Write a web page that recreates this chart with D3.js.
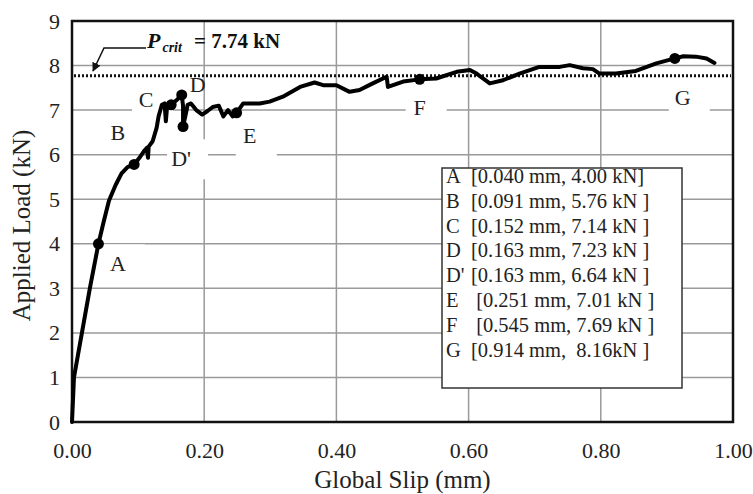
<!DOCTYPE html>
<html>
<head>
<meta charset="utf-8">
<script src="https://cdn.jsdelivr.net/npm/d3@7"></script>
<style>
	body { margin: 0; background: #fff; }
	svg { font-family: "Liberation Serif", "Times New Roman", serif; }
</style>
</head>
<body>
<svg id="chart"></svg>
<script>
// load-slip curve
var slip = [0, 0.003, 0.027, 0.040, 0.048, 0.056, 0.066, 0.075, 0.084, 0.094, 0.103, 0.110, 0.113, 0.115, 0.116, 0.122, 0.128, 0.131,
	0.136, 0.140, 0.142, 0.144, 0.150, 0.158, 0.166, 0.168, 0.168, 0.172, 0.175, 0.180, 0.188, 0.197, 0.205, 0.213, 0.222, 0.229,
	0.236, 0.243, 0.249, 0.259, 0.284, 0.299, 0.319, 0.345, 0.367, 0.380, 0.400, 0.420, 0.435, 0.455, 0.476, 0.478, 0.501, 0.526,
	0.551, 0.582, 0.602, 0.612, 0.632, 0.652, 0.677, 0.707, 0.738, 0.753, 0.773, 0.788, 0.798, 0.823, 0.853, 0.884, 0.912, 0.925,
	0.944, 0.960, 0.972];
var load = [0, 1.0, 3.0, 4.00, 4.5, 4.97, 5.32, 5.58, 5.72, 5.78, 5.95, 6.10, 6.15, 5.93, 6.18, 6.3, 6.6, 6.86,
	7.12, 7.15, 6.75, 7.10, 7.12, 7.22, 7.34, 7.1, 6.63, 6.9, 7.12, 7.15, 7.0, 6.9, 6.98, 7.07, 7.1, 6.86,
	7.0, 6.86, 6.94, 7.15, 7.15, 7.19, 7.3, 7.52, 7.62, 7.56, 7.56, 7.41, 7.45, 7.6, 7.75, 7.52, 7.64, 7.69,
	7.71, 7.86, 7.90, 7.82, 7.60, 7.67, 7.82, 7.97, 7.97, 8.01, 7.94, 7.92, 7.82, 7.82, 7.88, 8.05, 8.16, 8.21,
	8.20, 8.16, 8.06];

// marked points
var pointNames = ["A", "B", "C", "D", "D'", "E", "F", "G"];
var pointSlip  = [0.040, 0.094, 0.150, 0.166, 0.168, 0.249, 0.526, 0.912];
var pointLoad  = [4.00, 5.78, 7.12, 7.34, 6.63, 6.94, 7.69, 8.16];
// where each letter sits (data units)
var labelSlip  = [0.0695, 0.0695, 0.112, 0.190, 0.165, 0.269, 0.526, 0.924];
var labelLoad  = [3.56, 6.51, 7.25, 7.58, 5.92, 6.44, 7.07, 7.29];
var labelBoxed = [true, true, true, false, true, true, true, true];

var legendKeys  = ["A", "B", "C", "D", "D'", "E", "F", "G"];
var legendTexts = ["[0.040 mm, 4.00 kN]", "[0.091 mm, 5.76 kN ]", "[0.152 mm, 7.14 kN ]", "[0.163 mm, 7.23 kN ]",
	"[0.163 mm, 6.64 kN ]", " [0.251 mm, 7.01 kN ]", " [0.545 mm, 7.69 kN ]", "[0.914 mm,  8.16kN ]"];

var pcritText = "7.74";
var pcritLine = 7.77;

var xTicks = [0, 0.2, 0.4, 0.6, 0.8, 1.0];
var yTicks = [0, 1, 2, 3, 4, 5, 6, 7, 8, 9];

var W = 753, H = 494;
var margin = { top: 21, right: 20, bottom: 72, left: 72 };
var width = W - margin.left - margin.right;
var height = H - margin.top - margin.bottom;

var svg = d3.select("#chart").attr("width", W).attr("height", H);

var xScale = d3.scaleLinear().domain([0, 1]).range([margin.left, margin.left + width]);
var yScale = d3.scaleLinear().domain([0, 9]).range([margin.top + height, margin.top]);

// grid
var grid = svg.append("g").attr("class", "grid");
grid.selectAll(".hgrid").data(yTicks.slice(1, -1)).enter().append("line")
	.attr("x1", xScale(0)).attr("x2", xScale(1))
	.attr("y1", function(d) { return yScale(d); }).attr("y2", function(d) { return yScale(d); })
	.attr("stroke", "#9a9a9a").attr("stroke-width", 1.5);
grid.selectAll(".vgrid").data(xTicks.slice(1, -1)).enter().append("line")
	.attr("y1", yScale(0)).attr("y2", yScale(9))
	.attr("x1", function(d) { return xScale(d); }).attr("x2", function(d) { return xScale(d); })
	.attr("stroke", "#9a9a9a").attr("stroke-width", 1.5);

// axes
var xAxis = d3.axisBottom(xScale).tickValues(xTicks).tickSize(0).tickPadding(20).tickFormat(d3.format(".2f"));
var yAxis = d3.axisLeft(yScale).tickValues(yTicks).tickSize(0).tickPadding(12).tickFormat(d3.format("d"));
var gx = svg.append("g").attr("transform", "translate(0," + yScale(0) + ")").call(xAxis);
var gy = svg.append("g").attr("transform", "translate(" + xScale(0) + ",0)").call(yAxis);
[gx, gy].forEach(function(g) {
	g.select(".domain").remove();
	g.selectAll("text").attr("font-family", "Liberation Serif, serif").attr("font-size", 22).attr("fill", "#222");
});

// white text boxes behind the letters
var labels = pointNames.map(function(n, i) { return { name: n, x: labelSlip[i], y: labelLoad[i], boxed: labelBoxed[i] }; });
svg.append("g").selectAll("rect").data(labels.filter(function(d) { return d.boxed; })).enter().append("rect")
	.attr("x", function(d) { return xScale(d.x) - 14; })
	.attr("y", function(d) { return yScale(d.y) - 19; })
	.attr("width", 41).attr("height", 40)
	.attr("fill", "#fff");

// legend box
var lg = svg.append("g");
lg.append("rect").attr("x", 442).attr("y", 168).attr("width", 240).attr("height", 220)
	.attr("fill", "#fff").attr("stroke", "#333").attr("stroke-width", 1.5);
legendKeys.forEach(function(k, i) {
	var yy = 183 + i * 24.8;
	lg.append("text").attr("x", 446).attr("y", yy).attr("font-size", 20.5).attr("fill", "#222").text(k);
	lg.append("text").attr("x", 471).attr("y", yy).attr("font-size", 20.5).attr("fill", "#222")
		.attr("xml:space", "preserve").style("white-space", "pre").text(legendTexts[i]);
});

// frame
svg.append("rect").attr("x", xScale(0)).attr("y", yScale(9)).attr("width", width).attr("height", height)
	.attr("fill", "none").attr("stroke", "#111").attr("stroke-width", 2.5);

// P crit line
svg.append("line").attr("x1", xScale(0) + 2).attr("x2", xScale(1) - 2)
	.attr("y1", yScale(pcritLine)).attr("y2", yScale(pcritLine))
	.attr("stroke", "#111").attr("stroke-width", 3).attr("stroke-dasharray", "2,2");

// curve
var curve = slip.map(function(s, i) { return [s, load[i]]; });
var line = d3.line().x(function(d) { return xScale(d[0]); }).y(function(d) { return yScale(d[1]); });
svg.append("path").datum(curve).attr("d", line)
	.attr("fill", "none").attr("stroke", "#000").attr("stroke-width", 4)
	.attr("stroke-linejoin", "round").attr("stroke-linecap", "round");

svg.append("g").selectAll("circle").data(pointSlip).enter().append("circle")
	.attr("cx", function(d) { return xScale(d); })
	.attr("cy", function(d, i) { return yScale(pointLoad[i]); })
	.attr("r", 5.5).attr("fill", "#000");

svg.append("g").selectAll("text").data(labels).enter().append("text")
	.attr("x", function(d) { return xScale(d.x); })
	.attr("y", function(d) { return yScale(d.y); })
	.attr("dy", "0.35em").attr("text-anchor", "middle")
	.attr("font-size", 22).attr("fill", "#222")
	.text(function(d) { return d.name; });

// P crit callout
svg.append("defs").append("marker").attr("id", "arr")
	.attr("viewBox", "0 0 10 10").attr("refX", 9).attr("refY", 5)
	.attr("markerWidth", 6).attr("markerHeight", 6).attr("orient", "auto")
	.append("path").attr("d", "M0,0 L10,5 L0,10 z").attr("fill", "#111");
svg.append("polyline").attr("points", "146,48 104,48 93,71")
	.attr("fill", "none").attr("stroke", "#111").attr("stroke-width", 1.5).attr("marker-end", "url(#arr)");
var pt = svg.append("text").attr("x", 147).attr("y", 48).attr("font-weight", "bold").attr("fill", "#111");
pt.append("tspan").attr("font-style", "italic").attr("font-size", 22).text("P");
pt.append("tspan").attr("font-style", "italic").attr("font-size", 14).attr("dy", 4).attr("dx", 2).text("crit");
pt.append("tspan").attr("x", 194).attr("y", 48).attr("font-size", 21).text("= " + pcritText + " kN");

// axis titles
svg.append("text").attr("x", (xScale(0) + xScale(1)) / 2).attr("y", 488)
	.attr("text-anchor", "middle").attr("font-size", 25).attr("fill", "#222").text("Global Slip (mm)");
svg.append("text").attr("transform", "translate(30," + ((yScale(0) + yScale(9)) / 2 + 4) + ") rotate(-90)")
	.attr("text-anchor", "middle").attr("font-size", 25).attr("fill", "#222").text("Applied Load (kN)");
</script>
</body>
</html>
